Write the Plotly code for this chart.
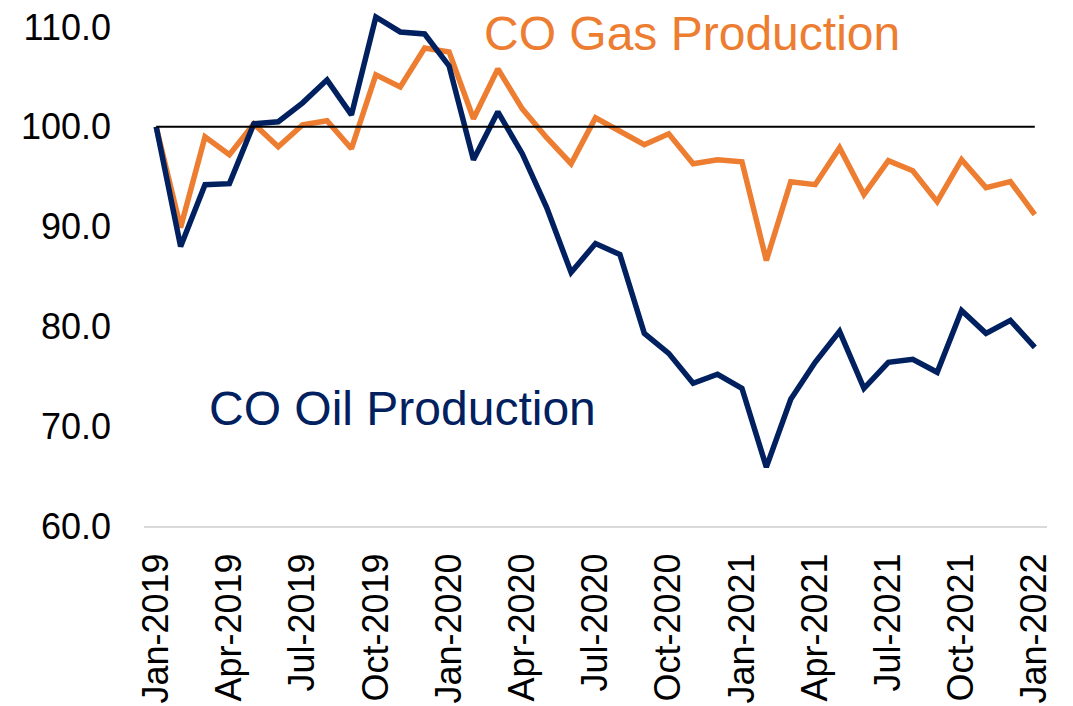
import plotly.graph_objects as go

MONTHS = [
    "Jan-2019", "Feb-2019", "Mar-2019", "Apr-2019", "May-2019", "Jun-2019",
    "Jul-2019", "Aug-2019", "Sep-2019", "Oct-2019", "Nov-2019", "Dec-2019",
    "Jan-2020", "Feb-2020", "Mar-2020", "Apr-2020", "May-2020", "Jun-2020",
    "Jul-2020", "Aug-2020", "Sep-2020", "Oct-2020", "Nov-2020", "Dec-2020",
    "Jan-2021", "Feb-2021", "Mar-2021", "Apr-2021", "May-2021", "Jun-2021",
    "Jul-2021", "Aug-2021", "Sep-2021", "Oct-2021", "Nov-2021", "Dec-2021",
    "Jan-2022",
]

OIL = [
    100.0, 88.0, 94.2, 94.3, 100.3, 100.5, 102.4, 104.7, 101.2, 111.0, 109.5, 109.3,
    106.1, 96.7, 101.5, 97.3, 91.9, 85.4, 88.3, 87.2, 79.3, 77.3, 74.3, 75.2,
    73.8, 65.9, 72.7, 76.4, 79.5, 73.8, 76.4, 76.7, 75.4, 81.6, 79.3, 80.6,
    77.9,
]

GAS = [
    100.0, 89.9, 99.0, 97.2, 100.3, 98.0, 100.2, 100.6, 97.8, 105.2, 104.0, 107.9,
    107.5, 100.8, 105.8, 101.8, 98.9, 96.3, 100.9, 99.6, 98.2, 99.3, 96.3, 96.7,
    96.5, 86.6, 94.5, 94.2, 97.9, 93.2, 96.6, 95.6, 92.5, 96.7, 93.9, 94.5,
    91.2,
]

BASELINE = 100.0
TICK_MONTHS = MONTHS[::3]

NAVY = "#002060"
ORANGE = "#ED7D31"
FONT = "Arial, 'Liberation Sans', sans-serif"

fig = go.Figure()
fig.add_trace(go.Scatter(x=MONTHS, y=GAS, mode="lines", name="CO Gas Production",
                         line=dict(color=ORANGE, width=5.5)))
fig.add_trace(go.Scatter(x=MONTHS, y=OIL, mode="lines", name="CO Oil Production",
                         line=dict(color=NAVY, width=5.5)))

fig.add_shape(type="line", xref="x", yref="y", x0=MONTHS[0], x1=MONTHS[-1],
              y0=BASELINE, y1=BASELINE, line=dict(color="black", width=2), layer="above")

fig.add_annotation(x=13.35, y=109.3, xref="x", yref="y", text="CO Gas Production",
                   showarrow=False, xanchor="left", yanchor="middle",
                   font=dict(family=FONT, size=48, color=ORANGE))
fig.add_annotation(x=2.1, y=71.8, xref="x", yref="y", text="CO Oil Production",
                   showarrow=False, xanchor="left", yanchor="middle",
                   font=dict(family=FONT, size=48, color=NAVY))

# the page body adds an 8px offset, so the figure is sized/margined to compensate
fig.update_layout(
    width=1065, height=698,
    margin=dict(l=136, r=26, t=3, b=180),
    paper_bgcolor="white", plot_bgcolor="white",
    showlegend=False,
    font=dict(family=FONT, color="black"),
)
fig.update_xaxes(
    type="category", range=[-0.5, len(MONTHS) - 0.5], automargin=False,
    tickmode="array", tickvals=TICK_MONTHS, ticktext=TICK_MONTHS,
    tickangle=-90, tickfont=dict(size=36, family=FONT, color="black"),
    showgrid=False, zeroline=False,
    showline=True, linecolor="#d9d9d9", linewidth=2,
    ticks="", ticklabelstandoff=11, ticklabeloverflow="allow",
)
fig.update_yaxes(
    range=[60, 111.6], dtick=10, tick0=60, tickformat=".1f", automargin=False,
    tickfont=dict(size=36, family=FONT, color="black"),
    showgrid=False, zeroline=False, showline=False,
    ticks="", ticklabelstandoff=32, ticklabeloverflow="allow",
)

fig.write_html("out.html")
